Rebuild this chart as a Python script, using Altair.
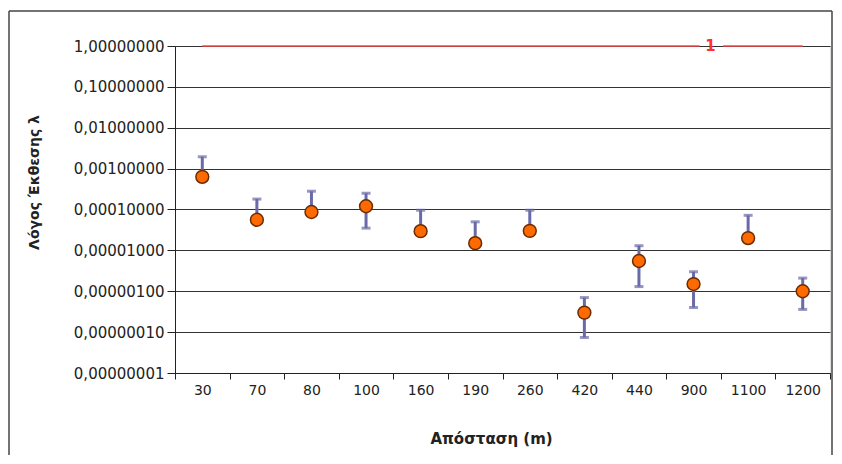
import altair as alt
import pandas as pd

categories = ["30", "70", "80", "100", "160", "190", "260", "420", "440", "900", "1100", "1200"]
values = [6.3e-4, 5.6e-5, 8.7e-5, 1.2e-4, 2.95e-5, 1.5e-5, 3.0e-5, 3.0e-7, 5.5e-6, 1.5e-6, 2.0e-5, 1.0e-6]
upper = [1.95e-3, 1.8e-4, 2.8e-4, 2.5e-4, 9.6e-5, 5.0e-5, 9.6e-5, 7.0e-7, 1.3e-5, 3.0e-6, 7.2e-5, 2.1e-6]
lower = [6.3e-4, 5.6e-5, 8.7e-5, 3.5e-5, 2.95e-5, 1.5e-5, 3.0e-5, 7.4e-8, 1.3e-6, 4.0e-7, 2.0e-5, 3.6e-7]
y_ticks = [1, 1e-1, 1e-2, 1e-3, 1e-4, 1e-5, 1e-6, 1e-7, 1e-8]
ref_value = 1
ref_label = "1"

df = pd.DataFrame({"cat": categories, "v": values, "hi": upper, "lo": lower})

W, H = 655, 327
FONT = "DejaVu Sans"

xenc = alt.X(
    "cat:N", sort=categories,
    scale=alt.Scale(paddingInner=0, paddingOuter=0),
    axis=alt.Axis(
        title="Απόσταση (m)", labelAngle=0, tickBand="extent", tickSize=6,
        labelPadding=4, labelFont=FONT, labelFontSize=14, labelColor="#222",
        titleFont=FONT, titleFontSize=15, titleFontWeight="bold", titleColor="#222",
        titleX=316, titleY=65, titleBaseline="middle",
        domainColor="#222", tickColor="#222", grid=False,
    ),
)
yscale = alt.Scale(type="log", domain=[1e-8, 1], nice=False)
yaxis = alt.Axis(
    title="Λόγος Έκθεσης λ", values=y_ticks,
    labelExpr="replace(format(datum.value, '.8f'), '.', ',')",
    labelFont=FONT, labelFontSize=15, labelColor="#222", tickSize=8, labelPadding=3,
    titleFont=FONT, titleFontSize=14, titleFontWeight="bold", titleColor="#222",
    titleX=-134, titleY=136, titleAngle=-90,
    grid=True, gridColor="#333", gridWidth=1, domainColor="#222", tickColor="#222",
)

base = alt.Chart(df)

err = base.mark_rule(color="#6a6aa8", strokeWidth=3).encode(
    x=xenc, y=alt.Y("lo:Q", scale=yscale, axis=yaxis), y2="hi:Q"
)
cap_hi = base.mark_tick(color="#6a6aa8", size=9, thickness=3).encode(
    x=alt.X("cat:N", sort=categories), y="hi:Q"
)
cap_lo = base.mark_tick(color="#6a6aa8", size=9, thickness=3).encode(
    x=alt.X("cat:N", sort=categories), y="lo:Q"
)
pts = base.mark_circle(size=165, color="#ff6a00", stroke="#6b2c00", strokeWidth=1.5, opacity=1).encode(
    x=alt.X("cat:N", sort=categories), y="v:Q"
)

one = pd.DataFrame({"a": [0]})
red1 = alt.Chart(one).mark_rule(color="#ff4545", strokeWidth=1.5, x2Offset=6).encode(
    x=alt.datum(categories[0]), x2=alt.datum("900"), y=alt.datum(ref_value)
)
red2 = alt.Chart(one).mark_rule(color="#ff4545", strokeWidth=1.5, xOffset=-25).encode(
    x=alt.datum("1100"), x2=alt.datum(categories[-1]), y=alt.datum(ref_value)
)
red_txt = alt.Chart(one).mark_text(
    text=ref_label, color="#ff3030", font=FONT, fontSize=15, fontWeight="bold", dx=17, baseline="middle"
).encode(x=alt.datum("900"), y=alt.datum(ref_value))

frame_col = "#444"
fl = alt.Chart(one).mark_rule(color=frame_col, strokeWidth=1.5).encode(
    x=alt.value(-166), y=alt.value(-35), y2=alt.value(409)
)
ft = alt.Chart(one).mark_rule(color=frame_col, strokeWidth=1.5).encode(
    x=alt.value(-166), x2=alt.value(657), y=alt.value(-35)
)
fr = alt.Chart(one).mark_rule(color=frame_col, strokeWidth=1.5).encode(
    x=alt.value(657), y=alt.value(-35), y2=alt.value(409)
)

chart = alt.layer(err, cap_hi, cap_lo, pts, red1, red2, red_txt, fl, ft, fr).properties(
    width=W, height=H, padding={"left": 0, "top": 2, "right": 0, "bottom": 0}
).configure_view(stroke="#222", strokeWidth=1).configure(background="white")

chart.save("out.html", embed_options={"renderer": "svg", "actions": False})
